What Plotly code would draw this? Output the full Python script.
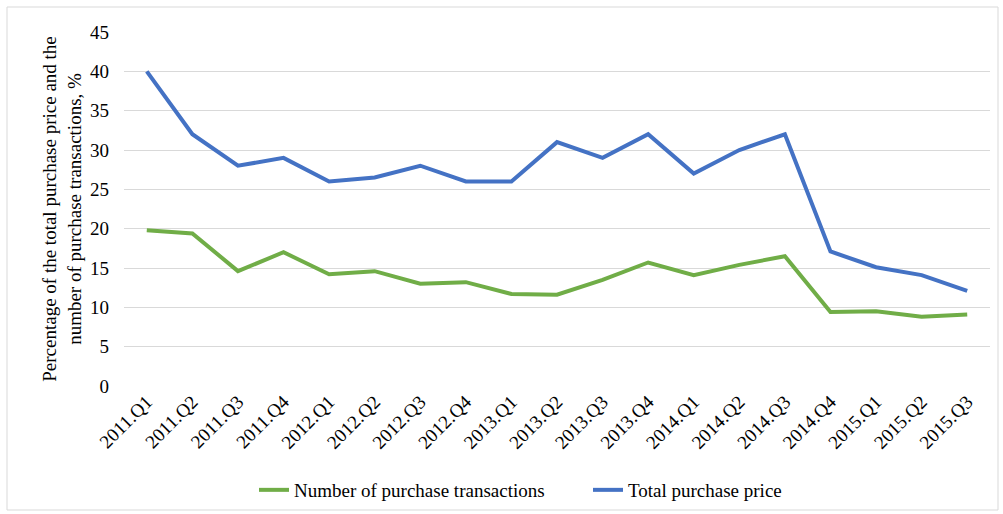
import plotly.graph_objects as go

quarters = ["2011.Q1", "2011.Q2", "2011.Q3", "2011.Q4", "2012.Q1", "2012.Q2", "2012.Q3", "2012.Q4",
            "2013.Q1", "2013.Q2", "2013.Q3", "2013.Q4", "2014.Q1", "2014.Q2", "2014.Q3", "2014.Q4",
            "2015.Q1", "2015.Q2", "2015.Q3"]
transactions = [19.8, 19.4, 14.6, 17.0, 14.2, 14.6, 13.0, 13.2, 11.7, 11.6, 13.5, 15.7, 14.1, 15.4,
                16.5, 9.4, 9.5, 8.8, 9.1]
total_price = [40.0, 32.0, 28.0, 29.0, 26.0, 26.5, 28.0, 26.0, 26.0, 31.0, 29.0, 32.0, 27.0, 30.0,
               32.0, 17.1, 15.1, 14.1, 12.1]
y_ticks = [0, 5, 10, 15, 20, 25, 30, 35, 40, 45]

FONT = "Liberation Serif, Times New Roman, serif"

fig = go.Figure()
fig.add_trace(go.Scatter(x=quarters, y=transactions, mode="lines", name="Number of purchase transactions",
                         line=dict(color="#70AD47", width=4)))
fig.add_trace(go.Scatter(x=quarters, y=total_price, mode="lines", name="Total purchase price",
                         line=dict(color="#4472C4", width=4)))

fig.update_layout(
    width=1003, height=514,
    margin=dict(l=124, r=13, t=32, b=128, autoexpand=False),
    paper_bgcolor="white", plot_bgcolor="white",
    font=dict(family=FONT, size=19, color="#000000"),
    showlegend=True,
    legend=dict(orientation="h", x=(254 - 124) / 866, xanchor="left", y=-(490 - 386) / 354, yanchor="middle",
                font=dict(family=FONT, size=19), entrywidth=289, entrywidthmode="pixels",
                traceorder="normal", bgcolor="rgba(0,0,0,0)"),
    xaxis=dict(type="category", range=[-0.5, 18.5], tickangle=-45, showgrid=False, automargin=False,
               showline=False, ticks="", tickfont=dict(family=FONT, size=19)),
    yaxis=dict(range=[0, 45], tickvals=y_ticks, showgrid=True, gridcolor="#D9D9D9", gridwidth=1,
               zeroline=False, showline=False, ticks="", automargin=False, ticklabelstandoff=14,
               tickfont=dict(family=FONT, size=19),
               title=dict(text="Percentage of the total purchase price and the<br>number of purchase transactions, %",
                          font=dict(family=FONT, size=19), standoff=3)),
    shapes=[dict(type="rect", xref="paper", yref="paper",
                 x0=(7 - 124) / 866, x1=(998 - 124) / 866,
                 y0=-(510 - 386) / 354, y1=1 + (32 - 7) / 354,
                 line=dict(color="#D9D9D9", width=1), fillcolor="rgba(0,0,0,0)", layer="below")],
)

fig.write_html("out.html")
